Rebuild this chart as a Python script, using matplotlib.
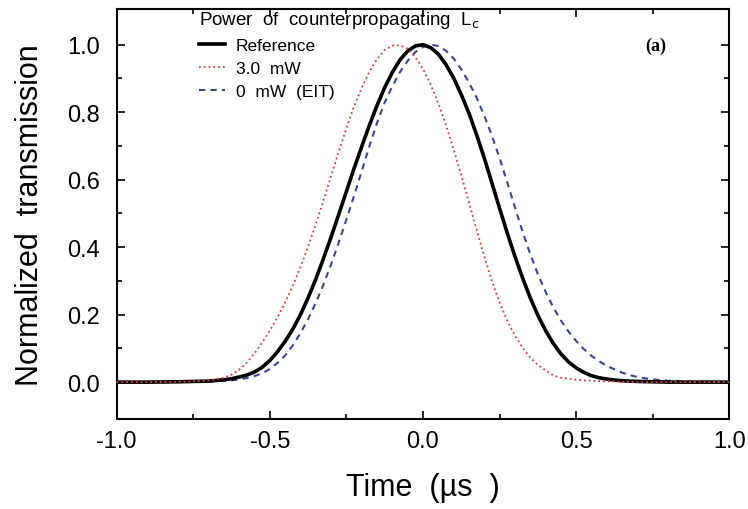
import matplotlib
matplotlib.use('Agg')
import matplotlib.pyplot as plt

plt.rcParams['font.family'] = ['Liberation Sans', 'DejaVu Sans']
plt.rcParams['axes.unicode_minus'] = False

# time axis (us)
time = [-1.0, -0.9, -0.8, -0.75,
        -0.7, -0.675, -0.65, -0.625, -0.6, -0.575, -0.55, -0.525,
        -0.5, -0.475, -0.45, -0.425, -0.4, -0.375, -0.35, -0.325,
        -0.3, -0.275, -0.25, -0.225, -0.2, -0.175, -0.15, -0.125,
        -0.1, -0.075, -0.05, -0.025, 0.0, 0.025, 0.05, 0.075,
        0.1, 0.125, 0.15, 0.175, 0.2, 0.225, 0.25, 0.275,
        0.3, 0.325, 0.35, 0.375, 0.4, 0.425, 0.45, 0.475,
        0.5, 0.525, 0.55, 0.575, 0.6, 0.625, 0.65, 0.675, 0.7,
        0.75, 0.8, 0.9, 1.0]

reference = [0.0, 0.0, 0.001, 0.002,
             0.003, 0.005, 0.007, 0.010, 0.015, 0.021, 0.030, 0.044,
             0.064, 0.090, 0.121, 0.157, 0.200, 0.250, 0.305, 0.366,
             0.430, 0.497, 0.565, 0.633, 0.698, 0.761, 0.820, 0.873,
             0.918, 0.955, 0.981, 0.996, 1.0, 0.991, 0.972, 0.941,
             0.901, 0.852, 0.797, 0.733, 0.664, 0.590, 0.515, 0.442,
             0.373, 0.309, 0.250, 0.198, 0.153, 0.115, 0.084, 0.060,
             0.042, 0.029, 0.019, 0.013, 0.009, 0.006, 0.004, 0.003, 0.002,
             0.001, 0.0, 0.0, 0.0]

p_3mw = [0.0, 0.0, 0.001, 0.002,
         0.005, 0.008, 0.013, 0.022, 0.037, 0.058, 0.085, 0.117,
         0.153, 0.192, 0.236, 0.285, 0.341, 0.402, 0.468, 0.538,
         0.611, 0.683, 0.752, 0.817, 0.872, 0.920, 0.957, 0.984,
         0.997, 0.998, 0.988, 0.963, 0.928, 0.882, 0.826, 0.762,
         0.690, 0.613, 0.533, 0.452, 0.373, 0.300, 0.236, 0.182,
         0.138, 0.102, 0.073, 0.051, 0.035, 0.020, 0.013, 0.010,
         0.007, 0.005, 0.004, 0.003, 0.002, 0.002, 0.001, 0.001, 0.0,
         0.0, 0.0, 0.0, 0.0]

p_0mw = [0.0, 0.0, 0.0, 0.001,
         0.002, 0.003, 0.004, 0.005, 0.008, 0.012, 0.018, 0.026,
         0.039, 0.057, 0.079, 0.109, 0.145, 0.187, 0.235, 0.289,
         0.349, 0.414, 0.482, 0.552, 0.625, 0.699, 0.768, 0.829,
         0.877, 0.919, 0.952, 0.978, 0.993, 1.0, 0.996, 0.982,
         0.959, 0.927, 0.888, 0.843, 0.790, 0.730, 0.664, 0.592,
         0.518, 0.446, 0.380, 0.320, 0.268, 0.222, 0.183, 0.150,
         0.122, 0.098, 0.078, 0.062, 0.048, 0.038, 0.028, 0.021, 0.015,
         0.008, 0.004, 0.001, 0.0]

fig = plt.figure(figsize=(7.48, 5.10), dpi=100)
ax = fig.add_axes([0.156, 0.176, 0.819, 0.804])

ax.plot(time, reference, color='black', lw=2.6, label='Reference', zorder=3)
ax.plot(time, p_3mw, color='#e03a44', lw=1.3, ls=':', label='3.0  mW', zorder=4)
ax.plot(time, p_0mw, color='#3c4688', lw=1.5, ls=(0, (3, 2.5)), label='0  mW  (EIT)', zorder=2)

ax.set_xlim(-1.0, 1.0)
ax.set_ylim(-0.11, 1.105)
ax.set_xticks([-1.0, -0.5, 0.0, 0.5, 1.0])
ax.set_xticks([-0.75, -0.25, 0.25, 0.75], minor=True)
ax.set_yticks([0.0, 0.2, 0.4, 0.6, 0.8, 1.0])
ax.set_yticks([0.1, 0.3, 0.5, 0.7, 0.9], minor=True)
ax.tick_params(which='both', direction='in', top=True, right=True, width=1.2)
ax.tick_params(which='major', length=6, labelsize=17)
ax.tick_params(axis='y', which='major', pad=12)
ax.tick_params(axis='x', which='major', pad=8)
ax.tick_params(which='minor', length=3.5)
for s in ax.spines.values():
    s.set_linewidth(1.5)

ax.set_xlabel('Time  (\u00b5s  )', fontsize=22, labelpad=14)
ax.set_ylabel('Normalized  transmission', fontsize=22, labelpad=16)

leg = ax.legend(title='Power  of  counterpropagating  L$_{\\rm c}$', loc='upper left',
                bbox_to_anchor=(0.118, 1.025), frameon=False, fontsize=12.5,
                title_fontsize=13.5, handlelength=1.5, handletextpad=0.6,
                labelspacing=0.45, borderaxespad=0.2)
leg._legend_box.align = 'left'

ax.text(0.862, 0.9, '(a)', transform=ax.transAxes, fontsize=13,
        family='Liberation Serif', fontweight='bold')

fig.savefig('out.png', dpi=100)
